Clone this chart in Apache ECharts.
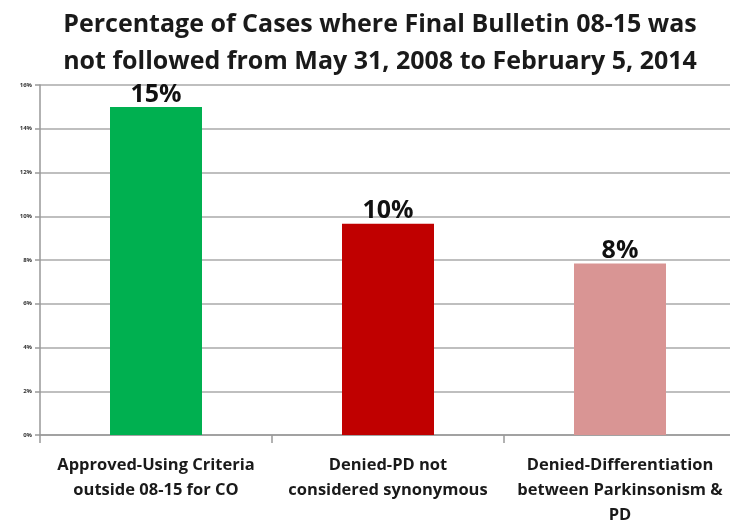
<!DOCTYPE html>
<html>
<head>
<meta charset="utf-8">
<script src="https://cdn.jsdelivr.net/npm/echarts@6/dist/echarts.min.js"></script>
<style>
  html, body { margin: 0; padding: 0; background: #fff; }
  #chart { width: 730px; height: 523px; }
</style>
</head>
<body>
<div id="chart"></div>
<script>
var categories = [
    'Approved-Using Criteria\noutside 08-15 for CO',
    'Denied-PD not\nconsidered synonymous',
    'Denied-Differentiation\nbetween Parkinsonism &\nPD'
];
var values = [15.0, 9.66, 7.84];
var valueLabels = ['15%', '10%', '8%'];
var barColors = ['#00b050', '#c00000', '#d99594'];
var yTicks = [0, 2, 4, 6, 8, 10, 12, 14, 16];

var chart = echarts.init(document.getElementById('chart'));

var option = {
    animation: false,
    title: {
        text: 'Percentage of Cases where Final Bulletin 08-15 was\nnot followed from May 31, 2008 to February 5, 2014',
        left: 375,
        textAlign: 'center',
        top: 1,
        textStyle: {
            fontFamily: 'Open Sans',
            fontWeight: 'bold',
            fontSize: 25,
            lineHeight: 37,
            color: '#1a1a1a'
        }
    },
    grid: { left: 40, right: -6, top: 85, bottom: 88, containLabel: false, outerBoundsMode: 'none' },
    xAxis: {
        type: 'category',
        data: categories,
        axisLine: { show: true, lineStyle: { color: '#999', width: 1.5 } },
        axisTick: { show: true, length: 8, lineStyle: { color: '#999', width: 1.5 } },
        axisLabel: {
            interval: 0,
            margin: 18,
            fontFamily: 'Open Sans',
            fontWeight: 'bold',
            fontSize: 16.5,
            lineHeight: 25,
            color: '#1a1a1a'
        }
    },
    yAxis: {
        type: 'value',
        min: 0,
        max: 16,
        interval: 2,
        axisLine: { show: true, lineStyle: { color: '#999', width: 1.5 } },
        axisTick: { show: true, length: 5, lineStyle: { color: '#999', width: 1.5 } },
        splitLine: { show: true, lineStyle: { color: '#aaa', width: 1.5 } },
        axisLabel: {
            margin: 8,
            fontFamily: 'Open Sans',
            fontWeight: 'bold',
            fontSize: 6,
            color: '#333',
            formatter: function (v) { return yTicks.indexOf(v) >= 0 ? v + '%' : ''; }
        }
    },
    series: [{
        type: 'bar',
        barWidth: 92,
        data: values.map(function (v, i) {
            return { value: v, itemStyle: { color: barColors[i] } };
        }),
        label: {
            show: true,
            position: 'top',
            distance: 0,
            fontFamily: 'Open Sans',
            fontWeight: 'bold',
            fontSize: 25,
            color: '#111',
            formatter: function (p) { return valueLabels[p.dataIndex]; }
        }
    }]
};

chart.setOption(option);
</script>
</body>
</html>
